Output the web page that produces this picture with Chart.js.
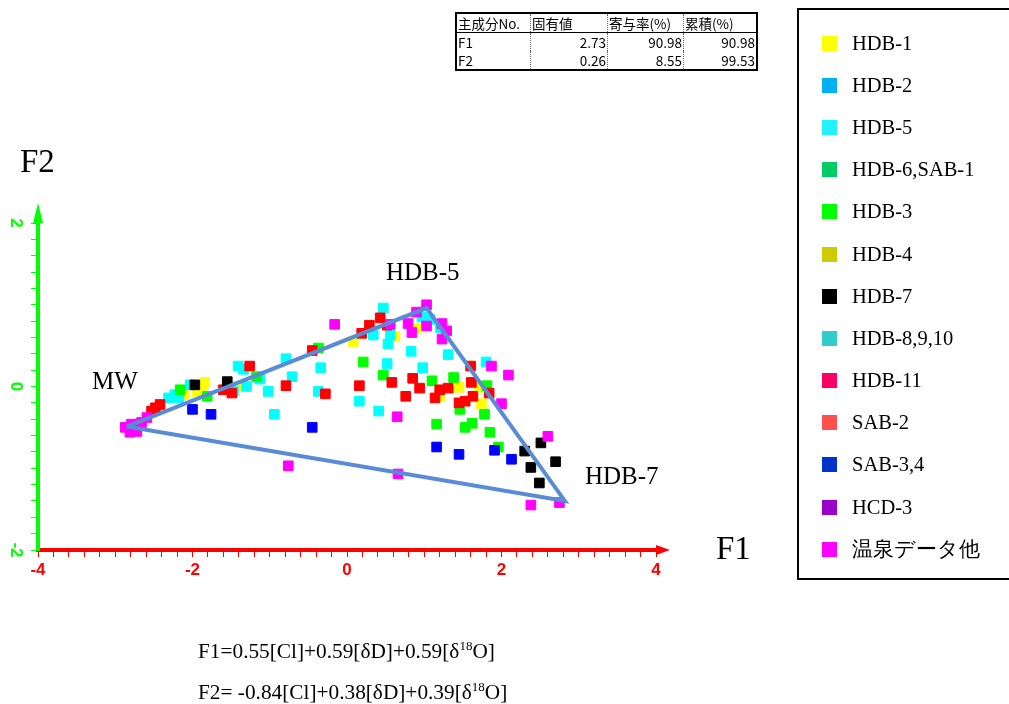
<!DOCTYPE html>
<html>
<head>
<meta charset="utf-8">
<script src="https://cdn.jsdelivr.net/npm/chart.js@4.4.1/dist/chart.umd.min.js"></script>
<style>
  body { margin: 0; background: #fff; }
  #wrap { position: relative; width: 1009px; height: 704px; overflow: hidden; font-family: "Liberation Serif", "Times New Roman", serif; }
  #cv { position: absolute; left: 0; top: 0; }
  .lbl { position: absolute; color: #000; white-space: nowrap; line-height: 1; }
  #tbl { position: absolute; left: 455px; top: 12px; border-collapse: collapse; border: 2px solid #000;
         font-family: "Noto Sans CJK JP", sans-serif; font-size: 13.5px; }
  #tbl td { height: 18px; padding: 0 1px; line-height: 18px; border-left: 1px dotted #666; overflow: hidden; white-space: nowrap; }
  #tbl tr:first-child td { border-bottom: 1px solid #000; }
  #tbl td.n { text-align: right; }
  #legend { position: absolute; left: 797px; top: 8px; width: 230px; height: 568px; border: 2px solid #000; }
  #legend ul { list-style: none; margin: 0; padding: 12px 0 0 0; }
  #legend li { height: 42.2px; display: flex; align-items: center; font-size: 20.5px; }
  #legend li span.sw { display: inline-block; width: 15px; height: 15px; margin-left: 23px; margin-right: 15px; }
  .eq { position: absolute; left: 198px; font-size: 21.3px; line-height: 1; }
  .eq sup { font-size: 13px; vertical-align: 8px; }
</style>
</head>
<body>
<div id="wrap">
  <canvas id="cv" width="1009" height="704"></canvas>
  <table id="tbl"></table>
  <div id="legend"><ul id="legendList"></ul></div>
  <div class="lbl" style="left:20px; top:145px; font-size:33px;">F2</div>
  <div class="lbl" style="left:716px; top:532px; font-size:33px;">F1</div>
  <div class="lbl" style="left:92px; top:368px; font-size:25px;">MW</div>
  <div class="lbl" style="left:386px; top:259px; font-size:25px;">HDB-5</div>
  <div class="lbl" style="left:585px; top:463px; font-size:25px;">HDB-7</div>
  <div class="eq" style="top:639px;">F1=0.55[Cl]+0.59[δD]+0.59[δ<sup>18</sup>O]</div>
  <div class="eq" style="top:680px;">F2= -0.84[Cl]+0.38[δD]+0.39[δ<sup>18</sup>O]</div>
</div>
<script>
// table values
const tableHead = ['主成分No.', '固有値', '寄与率(%)', '累積(%)'];
const components = ['F1', 'F2'];
const eigenValues = ['2.73', '0.26'];
const contribution = ['90.98', '8.55'];
const cumulative = ['90.98', '99.53'];

// legend entries
const legendLabels = ['HDB-1', 'HDB-2', 'HDB-5', 'HDB-6,SAB-1', 'HDB-3', 'HDB-4', 'HDB-7',
  'HDB-8,9,10', 'HDB-11', 'SAB-2', 'SAB-3,4', 'HCD-3', '温泉データ他'];
const legendColors = ['#FFFF00', '#00B0F0', '#22F2FF', '#00CC66', '#00FF00', '#CCCC00', '#000000',
  '#33CCCC', '#FF0066', '#FF5050', '#0033CC', '#9900CC', '#FF00FF'];

// scores [F1, F2]
const hdb1 = [[-2.11,-0.10],[-1.84,0.05],[-1.94,-0.06],[-1.88,-0.02],[-1.43,0.00],[0.08,0.55],
  [0.62,0.61],[0.89,0.71],[1.45,-0.01],[1.71,-0.01],[1.20,-0.12],[1.74,-0.21]];
const hdb5 = [[-2.31,-0.14],[-2.23,-0.10],[-2.18,-0.14],[-2.03,0.02],[-1.47,-0.06],[-1.41,0.25],
  [-1.34,0.21],[-1.30,0.00],[-1.13,0.09],[-1.02,-0.06],[-0.94,-0.34],[-0.79,0.34],[-0.71,0.12],
  [-0.34,0.23],[-0.37,-0.06],[0.16,-0.18],[0.41,-0.30],[0.47,0.96],[0.34,0.63],[0.56,0.63],
  [0.53,0.52],[0.52,0.28],[0.83,0.43],[0.97,0.85],[1.07,0.82],[1.21,0.72],[0.98,0.23],[1.31,0.39],[1.80,0.30]];
const hdb3 = [[-2.16,-0.04],[-1.81,-0.12],[-1.17,0.12],[-0.37,0.47],[0.21,0.30],[0.47,0.14],
  [1.10,0.07],[1.38,0.11],[1.81,0.01],[1.46,-0.28],[1.78,-0.34],[1.16,-0.46],[1.53,-0.50],
  [1.62,-0.45],[1.85,-0.56],[1.96,-0.74]];
const hdb11 = [[-2.53,-0.30],[-2.48,-0.26],[-2.42,-0.22],[-1.60,-0.04],[-1.49,-0.08],[-1.26,0.25],
  [-0.79,0.01],[-0.45,0.44],[-0.28,-0.09],[0.16,0.01],[0.19,0.65],[0.29,0.75],[0.43,0.84],
  [0.52,0.75],[0.58,0.05],[0.76,-0.12],[0.85,0.10],[0.94,-0.02],[1.14,-0.14],[1.20,-0.04],
  [1.31,-0.02],[1.45,-0.20],[1.53,-0.18],[1.60,0.25],[1.61,0.05],[1.63,-0.12],[1.84,-0.08]];
const hdb7 = [[-1.97,0.02],[-1.55,0.06],[2.30,-0.79],[2.51,-0.69],[2.70,-0.92],[2.38,-0.99],[2.49,-1.18]];
const sab34 = [[-2.00,-0.28],[-1.76,-0.34],[-0.45,-0.50],[1.16,-0.74],[1.45,-0.83],[1.91,-0.78],[2.13,-0.89]];
const others = [[-2.87,-0.50],[-2.81,-0.56],[-2.72,-0.55],[-2.66,-0.44],[-2.59,-0.38],[-2.79,-0.46],
  [-0.76,-0.97],[0.66,-1.07],[-0.16,0.76],[0.56,0.76],[0.65,-0.37],[0.79,0.77],[0.90,0.91],
  [1.03,1.00],[1.03,0.74],[0.84,0.66],[1.23,0.77],[1.29,0.68],[1.23,0.58],[1.87,0.25],[2.09,0.14],
  [2.00,-0.21],[2.60,-0.61],[2.38,-1.45],[2.75,-1.42]];
// end members MW, HDB-5, HDB-7
const triangle = [[-2.85,-0.49],[1.03,0.96],[2.82,-1.40],[-2.85,-0.49]];

// build table
const colW = [71, 74, 73, 70];
const tbl = document.getElementById('tbl');
let html = '<tr>' + tableHead.map((h, i) => '<td style="width:' + colW[i] + 'px' + (i ? '' : ';border-left:none') + '">' + h + '</td>').join('') + '</tr>';
components.forEach((c, i) => {
  html += '<tr><td style="border-left:none">' + c + '</td><td class="n">' + eigenValues[i] + '</td><td class="n">' +
    contribution[i] + '</td><td class="n">' + cumulative[i] + '</td></tr>';
});
tbl.innerHTML = html;

// build legend
document.getElementById('legendList').innerHTML = legendLabels.map((l, i) =>
  '<li><span class="sw" style="background:' + legendColors[i] + '"></span>' + l + '</li>').join('');

const pts = arr => arr.map(p => ({ x: p[0], y: p[1] }));
const sq = (data, color) => ({
  data: pts(data), backgroundColor: color, borderColor: color, borderWidth: 1,
  pointStyle: 'rect', pointRadius: 6.8, order: 1
});

// axis arrows
const arrows = {
  id: 'arrows',
  afterDraw(chart) {
    const { ctx, chartArea: a } = chart;
    ctx.save();
    ctx.fillStyle = '#FF0000'; ctx.strokeStyle = '#FF0000'; ctx.lineWidth = 4;
    ctx.beginPath(); ctx.moveTo(a.right, a.bottom); ctx.lineTo(a.right + 6, a.bottom); ctx.stroke();
    ctx.beginPath(); ctx.moveTo(a.right, a.bottom - 5); ctx.lineTo(a.right + 14, a.bottom); ctx.lineTo(a.right, a.bottom + 5); ctx.fill();
    ctx.fillStyle = '#00FF00';
    ctx.beginPath(); ctx.moveTo(a.left - 5, a.top); ctx.lineTo(a.left, a.top - 20); ctx.lineTo(a.left + 5, a.top); ctx.fill();
    ctx.restore();
  }
};

const evenLabel = v => {
  const r = Math.round(v);
  return (Math.abs(v - r) < 1e-6 && r % 2 === 0) ? String(r) : '';
};

new Chart(document.getElementById('cv'), {
  type: 'scatter',
  data: {
    datasets: [
      { data: pts(triangle), showLine: true, borderColor: '#5A8BD6', borderWidth: 4, pointRadius: 0, order: 0 },
      sq(others, '#FF00FF'),
      sq(sab34, '#0000FF'),
      sq(hdb7, '#000000'),
      sq(hdb11, '#FF0000'),
      sq(hdb3, '#00FF00'),
      sq(hdb5, '#00FFFF'),
      sq(hdb1, '#FFFF00')
    ]
  },
  options: {
    responsive: false,
    animation: false,
    layout: { padding: { left: 0, right: 353, top: 223, bottom: 110 } },
    plugins: { legend: { display: false }, tooltip: { enabled: false } },
    scales: {
      x: {
        type: 'linear', min: -4, max: 4,
        grid: { drawOnChartArea: false, drawTicks: true, tickLength: 7, color: '#FF0000' },
        border: { color: '#FF0000', width: 4 },
        ticks: { stepSize: 0.2, autoSkip: false, maxRotation: 0, padding: 3, color: '#FF0000',
          font: { family: 'Arial, "Liberation Sans"', weight: 'bold', size: 17 }, callback: evenLabel },
        afterFit: s => { s.height = 44; }
      },
      y: {
        type: 'linear', min: -2, max: 2,
        grid: { drawOnChartArea: false, drawTicks: true, tickLength: 7, color: '#00FF00' },
        border: { color: '#00FF00', width: 4 },
        ticks: { stepSize: 0.2, autoSkip: false, minRotation: -90, maxRotation: -90, crossAlign: 'center',
          padding: 8, color: '#00FF00',
          font: { family: 'Arial, "Liberation Sans"', weight: 'bold', size: 17 }, callback: evenLabel },
        afterFit: s => { s.width = 38; }
      }
    }
  },
  plugins: [arrows]
});
</script>
</body>
</html>
